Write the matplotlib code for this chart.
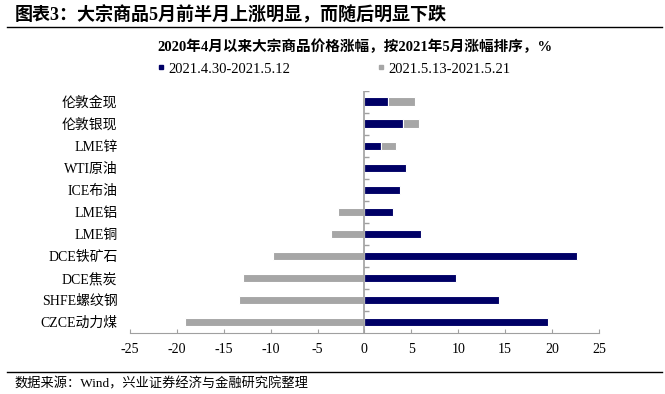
"""
大宗商品涨幅图：两段时期的堆叠条形图（按2021年5月涨幅排序）。
"""

import numpy as np
import matplotlib

matplotlib.use('Agg')
import matplotlib.pyplot as plt
from matplotlib.lines import Line2D

plt.rcParams['font.family'] = ['Liberation Serif', 'Noto Sans CJK SC']
plt.rcParams['axes.unicode_minus'] = False

# 数据
categories = ['伦敦金现', '伦敦银现', 'LME锌', 'WTI原油', 'ICE布油', 'LME铝',
              'LME铜', 'DCE铁矿石', 'DCE焦炭', 'SHFE螺纹钢', 'CZCE动力煤']
first_half = [2.5, 4.1, 1.8, 4.4, 3.8, 3.0, 6.0, 22.7, 9.8, 14.4, 19.6]
second_half = [2.9, 1.7, 1.6, 0.0, -0.2, -2.8, -3.6, -9.7, -12.9, -13.4, -19.1]
series_names = ['2021.4.30-2021.5.12', '2021.5.13-2021.5.21']
x_ticks = [-25, -20, -15, -10, -5, 0, 5, 10, 15, 20, 25]

navy = '#000066'
grey = '#A6A6A6'
axis_grey = '#A0A0A0'

fig = plt.figure(figsize=(6.65, 3.94), dpi=100)
ax = fig.add_axes([0.1955, 0.155, 0.705, 0.615])

y = np.arange(len(categories))
blue = np.array(first_half)
grey_vals = np.array(second_half)
# Excel式堆叠：正值接在前一段之后，负值从0向左
grey_left = np.where(grey_vals > 0, blue, 0)

ax.barh(y, blue, height=0.38, color=navy, edgecolor='white', linewidth=0.8)
ax.barh(y, grey_vals, left=grey_left, height=0.38, color=grey,
        edgecolor='white', linewidth=0.8)

ax.set_xlim(-25, 25)
ax.set_ylim(len(categories) - 0.5, -0.5)
ax.set_xticks(x_ticks)
ax.set_xticklabels([str(t) for t in x_ticks], fontsize=10)
ax.set_yticks(y)
ax.set_yticklabels(categories, fontsize=10)
ax.tick_params(axis='y', length=0, pad=9)
ax.tick_params(axis='x', direction='in', length=3, color=axis_grey, pad=7)

for side in ['top', 'right', 'left']:
    ax.spines[side].set_visible(False)
ax.spines['bottom'].set_color(axis_grey)

# 零轴及其刻度
ax.axvline(0, color=axis_grey, linewidth=1.2, zorder=3)
bounds = np.arange(len(categories) + 1) - 0.5
ax.hlines(bounds[:-1], 0, 0.45, color=axis_grey, linewidth=1, zorder=3)

# 图例
handles = [Line2D([], [], marker='s', linestyle='none', color=navy, markersize=3),
           Line2D([], [], marker='s', linestyle='none', color=grey, markersize=3)]
fig.legend(handles, series_names, loc='center left', ncol=2,
           bbox_to_anchor=(0.236, 0.825), frameon=False, fontsize=10.5,
           handlelength=0.5, handletextpad=0.25, columnspacing=6.0,
           borderpad=0, borderaxespad=0)

# 标题与注释
fig.text(0.022, 0.962, '图表3：大宗商品5月前半月上涨明显，而随后明显下跌',
         fontsize=13, fontweight='bold', va='center', ha='left')
fig.add_artist(Line2D([0.01, 0.995], [0.932, 0.932], color='black', linewidth=1))
fig.text(0.534, 0.881, '2020年4月以来大宗商品价格涨幅，按2021年5月涨幅排序，%',
         fontsize=10.5, fontweight='bold', va='center', ha='center')
fig.add_artist(Line2D([0.01, 0.995], [0.056, 0.056], color='black', linewidth=1))
fig.text(0.022, 0.025, '数据来源：Wind，兴业证券经济与金融研究院整理',
         fontsize=9.5, va='center', ha='left')

fig.savefig('out.png', dpi=100)
